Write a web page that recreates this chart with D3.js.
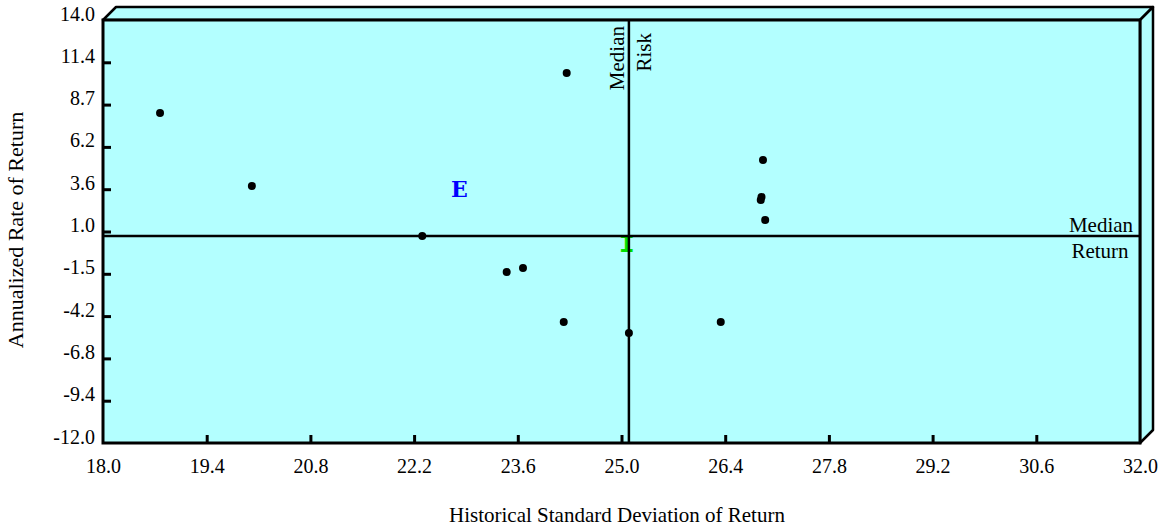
<!DOCTYPE html>
<html>
<head>
<meta charset="utf-8">
<script src="https://cdn.jsdelivr.net/npm/d3@7"></script>
<style>
  html, body { margin: 0; padding: 0; background: #ffffff; }
  svg { display: block; }
  text { font-family: "Liberation Serif", "Times New Roman", serif; }
</style>
</head>
<body>
<svg id="chart" width="1163" height="529"></svg>
<script>
// ---- data ----
const riskValues   = [18.77, 20.01, 22.31, 23.45, 23.67, 24.22, 24.26, 25.10, 26.34, 26.91, 26.89, 26.88, 26.94];
const returnValues = [8.28, 3.80, 0.72, -1.49, -1.24, -4.56, 10.74, -5.24, -4.56, 5.40, 3.12, 2.94, 1.71];
const medianRisk = 25.10;
const medianReturn = 0.72;
const markerLabels = ["E", "I"];
const markerRisk   = [22.81, 25.07];
const markerReturn = [3.62, 0.20];
const markerColors = ["#0000ff", "#00e000"];
const markerFonts  = ['"DejaVu Serif", "Liberation Serif", serif', '"Liberation Mono", "Courier New", monospace'];
const markerSizes  = [22, 26];
const xTickValues = [18.0, 19.4, 20.8, 22.2, 23.6, 25.0, 26.4, 27.8, 29.2, 30.6, 32.0];
const xTickLabels = ["18.0", "19.4", "20.8", "22.2", "23.6", "25.0", "26.4", "27.8", "29.2", "30.6", "32.0"];
const yTickValues = [14.0, 11.4, 8.8, 6.2, 3.6, 1.0, -1.6, -4.2, -6.8, -9.4, -12.0];
const yTickLabels = ["14.0", "11.4", "8.7", "6.2", "3.6", "1.0", "-1.5", "-4.2", "-6.8", "-9.4", "-12.0"];
const xTitle = "Historical Standard Deviation of Return";
const yTitle = "Annualized Rate of Return";

// ---- layout ----
const L = 103, R = 1140, T = 20, B = 443, D = 13;
const fill = "#b3ffff";
const serif = '"Liberation Serif", "Times New Roman", serif';
const svg = d3.select("#chart");
const x = d3.scaleLinear().domain([18, 32]).range([L, R]);
const y = d3.scaleLinear().domain([-12, 14]).range([B, T]);

// 3D frame faces
svg.append("polygon")
  .attr("points", [[L, T], [L + D, T - D], [R + D, T - D], [R, T]].join(" "))
  .attr("fill", fill).attr("stroke", "#000").attr("stroke-width", 2.5).attr("stroke-linejoin", "round");
svg.append("polygon")
  .attr("points", [[R, T], [R + D, T - D], [R + D, B - D], [R, B]].join(" "))
  .attr("fill", fill).attr("stroke", "#000").attr("stroke-width", 2.5).attr("stroke-linejoin", "round");
svg.append("rect")
  .attr("x", L).attr("y", T).attr("width", R - L).attr("height", B - T)
  .attr("fill", fill).attr("stroke", "#000").attr("stroke-width", 3);

// axes
const fmtX = (d, i) => xTickLabels[i];
const fmtY = (d, i) => yTickLabels[i];
const gx = svg.append("g").attr("transform", `translate(0,${B})`)
  .call(d3.axisBottom(x).tickValues(xTickValues).tickFormat(fmtX).tickSize(-8).tickPadding(0));
const gy = svg.append("g").attr("transform", `translate(${L},0)`)
  .call(d3.axisLeft(y).tickValues(yTickValues).tickFormat(fmtY).tickSize(-8).tickPadding(8));
[gx, gy].forEach(g => {
  g.attr("font-family", serif).attr("font-size", 20);
  g.select(".domain").remove();
  g.selectAll(".tick line").attr("stroke", "#000").attr("stroke-width", 3);
  g.selectAll(".tick text").attr("fill", "#000")
    .style("font-family", serif).style("font-size", "20px");
});
gx.selectAll(".tick text").attr("y", 30).attr("dy", "0");
gy.selectAll(".tick text").attr("dy", "0");
// endpoint ticks sit on the frame
gx.selectAll(".tick line").filter(d => d === 18 || d === 32).remove();
gy.selectAll(".tick line").filter(d => d === 14 || d === -12).remove();

// points
svg.append("g").selectAll("circle")
  .data(riskValues.map((v, i) => [v, returnValues[i]]))
  .join("circle")
  .attr("cx", d => x(d[0])).attr("cy", d => y(d[1])).attr("r", 4).attr("fill", "#000");

// markers E / I
svg.append("g").selectAll("text")
  .data(markerLabels.map((t, i) => ({ t, xv: markerRisk[i], yv: markerReturn[i], c: markerColors[i], f: markerFonts[i], s: markerSizes[i] })))
  .join("text")
  .attr("x", d => x(d.xv)).attr("y", d => y(d.yv))
  .attr("text-anchor", "middle").attr("dominant-baseline", "central")
  .style("font-family", d => d.f)
  .style("font-weight", "bold").style("font-size", d => d.s + "px")
  .attr("fill", d => d.c)
  .text(d => d.t);

// median lines
svg.append("line")
  .attr("x1", L).attr("x2", R).attr("y1", y(medianReturn)).attr("y2", y(medianReturn))
  .attr("stroke", "#000").attr("stroke-width", 2.5);
svg.append("line")
  .attr("x1", x(medianRisk)).attr("x2", x(medianRisk)).attr("y1", T).attr("y2", B)
  .attr("stroke", "#000").attr("stroke-width", 2.5);

// median labels
const lab = svg.append("g").style("font-size", "21px").style("font-family", serif).attr("fill", "#000");
lab.append("text").attr("transform", `translate(${x(medianRisk) - 5},26) rotate(-90)`)
  .attr("text-anchor", "end").text("Median");
lab.append("text").attr("transform", `translate(${x(medianRisk) + 22},33) rotate(-90)`)
  .attr("text-anchor", "end").text("Risk");
lab.append("text").attr("x", 1101).attr("y", y(medianReturn) - 4)
  .attr("text-anchor", "middle").text("Median");
lab.append("text").attr("x", 1100).attr("y", y(medianReturn) + 22)
  .attr("text-anchor", "middle").text("Return");

// titles
svg.append("text").attr("x", 617).attr("y", 522)
  .attr("text-anchor", "middle").style("font-family", serif).style("font-size", "21px").text(xTitle);
svg.append("text").attr("transform", `translate(23,230) rotate(-90)`)
  .attr("text-anchor", "middle").style("font-family", serif).style("font-size", "22px").text(yTitle);
</script>
</body>
</html>
